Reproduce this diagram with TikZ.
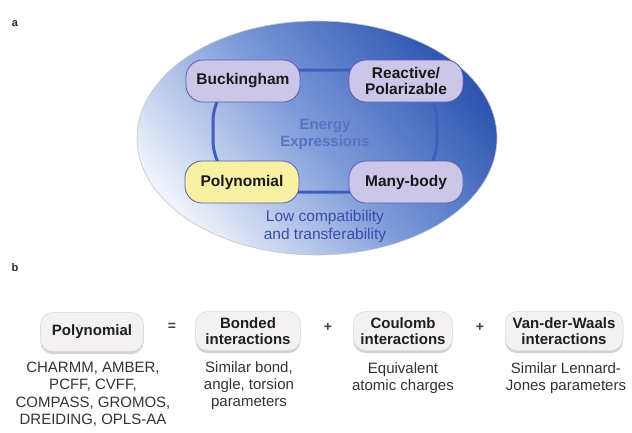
\documentclass[tikz,border=0pt]{standalone}
\usepackage{fontspec}
\setmainfont{Liberation Sans}
\usetikzlibrary{shadows}
\definecolor{ringblue}{HTML}{3F5FBF}
\definecolor{boxedge}{HTML}{5B5BB5}
\definecolor{lav}{HTML}{CCC6E9}
\definecolor{yel}{HTML}{F8F0A2}
\definecolor{dkblue}{HTML}{2E55B0}
\definecolor{midblue}{HTML}{7D9BDA}
\definecolor{ltblue}{HTML}{EEF2FA}
\definecolor{energytxt}{HTML}{5A72C6}
\definecolor{lowtxt}{HTML}{3A4CA8}
\definecolor{pillfill}{HTML}{F3F1F1}
\definecolor{pilledge}{HTML}{DAD6D6}
\begin{document}
\begin{tikzpicture}[x=1pt,y=-1pt,
  topbox/.style={draw=boxedge, line width=0.8pt, fill=lav, rounded corners=17pt,
    minimum width=114pt, minimum height=42pt, align=center, inner sep=2pt,
    font=\fontsize{15.5}{16.5}\selectfont\bfseries, text=black!90},
  pill/.style={fill=pillfill, draw=pilledge, line width=0.5pt, rounded corners=12pt,
    drop shadow={shadow xshift=0pt, shadow yshift=-2.5pt, opacity=0.35, fill=gray},
    minimum height=39pt, align=center, inner sep=2pt,
    font=\fontsize{15}{16.5}\selectfont\bfseries, text=black!88},
  subtext/.style={anchor=north, align=center, inner sep=0pt,
    font=\fontsize{15}{17.2}\selectfont, text=black!80},
  opsym/.style={font=\fontsize{14}{14}\selectfont\bfseries, text=black!75},
  panel/.style={font=\fontsize{11}{11}\selectfont\bfseries, text=black!85}]
\useasboundingbox (0,0) rectangle (632,432);

% panel labels
\node[panel] (la) at (15,24) {a};
\node[panel] (lb) at (15,268) {b};

% big ellipse
\shade[top color=dkblue, bottom color=ltblue, middle color=midblue, shading angle=-50]
  (317,138) ellipse [x radius=180pt, y radius=117pt];
\draw[color=gray!45, line width=0.6pt] (317,138) ellipse [x radius=180pt, y radius=117pt];

% ring
\coordinate (r1) at (213,70);
\coordinate (r2) at (437,192);
\draw[ringblue, line width=3pt, rounded corners=52pt] (r1) rectangle (r2);

% top boxes
\node[topbox] (buck) at (243,81) {Buckingham};
\node[topbox] (reac) at (406,81) {Reactive/\\Polarizable};
\node[topbox, fill=yel] (poly) at (242,182) {Polynomial};
\node[topbox] (many) at (406,182) {Many-body};

\node[align=center, text=energytxt, font=\fontsize{15}{17}\selectfont\bfseries] (energy) at (325,134) {Energy\\Expressions};
\node[align=center, text=lowtxt, font=\fontsize{15.5}{18}\selectfont] (low) at (325,226) {Low compatibility\\and transferability};

% bottom row
\node[pill, minimum width=103pt] (bpoly) at (92,332) {Polynomial};
\node[opsym] (eq) at (172,327) {=};
\node[pill, minimum width=105pt] (bond) at (248,331) {Bonded\\interactions};
\node[opsym] (p1) at (328,327) {+};
\node[pill, minimum width=99pt] (coul) at (403,331) {Coulomb\\interactions};
\node[opsym] (p2) at (480,327) {+};
\node[pill, minimum width=118pt] (vdw) at (564,331) {Van-der-Waals\\interactions};

\node[subtext] (t1) at (93,362) {CHARMM, AMBER,\\PCFF, CVFF,\\COMPASS, GROMOS,\\DREIDING, OPLS-AA};
\node[subtext] (t2) at (249,361) {Similar bond,\\angle, torsion\\parameters};
\node[subtext] (t3) at (403,362) {Equivalent\\atomic charges};
\node[subtext] (t4) at (566,362) {Similar Lennard-\\Jones parameters};
\end{tikzpicture}
\end{document}
